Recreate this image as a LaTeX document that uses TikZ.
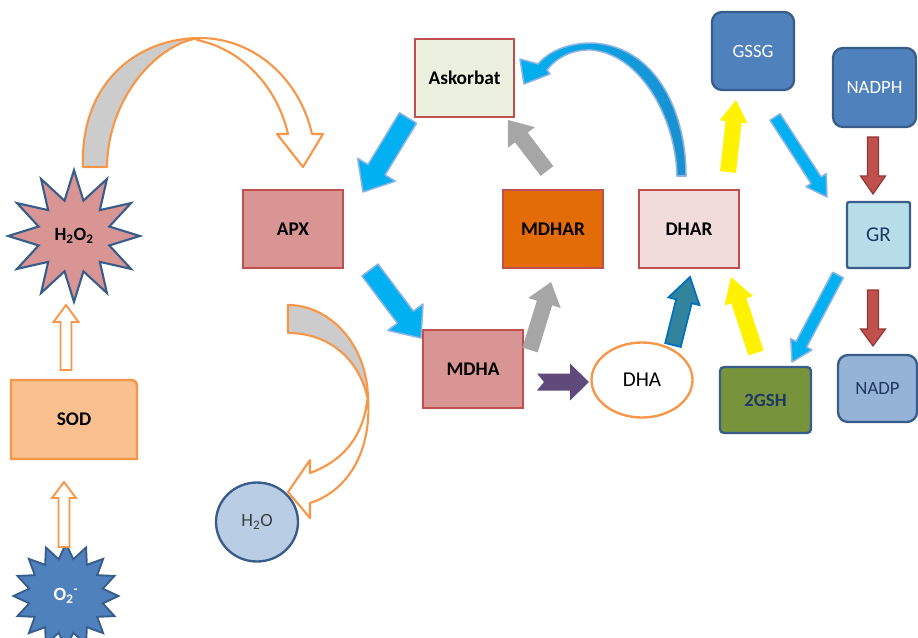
\documentclass[tikz,border=0pt]{standalone}
\usepackage{fontspec}
\setmainfont{Carlito}
\usetikzlibrary{shapes.geometric,calc}
\definecolor{redf}{HTML}{D99594}
\definecolor{redb}{HTML}{C0504D}
\definecolor{askf}{HTML}{EBF1DE}
\definecolor{mdharf}{HTML}{E36C09}
\definecolor{dharf}{HTML}{F2DCDB}
\definecolor{orng}{HTML}{F79646}
\definecolor{sodf}{HTML}{FAC090}
\definecolor{bluef}{HTML}{4F81BD}
\definecolor{navy}{HTML}{385D8A}
\definecolor{grf}{HTML}{B7DEE8}
\definecolor{nadpf}{HTML}{95B3D7}
\definecolor{gshf}{HTML}{77933C}
\definecolor{h2of}{HTML}{B9CDE5}
\definecolor{cyanc}{HTML}{00B0F0}
\definecolor{lbb}{HTML}{8DB3E2}
\definecolor{grayc}{HTML}{A6A6A6}
\definecolor{purp}{HTML}{604A7B}
\definecolor{tealf}{HTML}{31849B}
\definecolor{tealb}{HTML}{0070C0}
\definecolor{dred}{HTML}{943634}
\definecolor{txtnavy}{HTML}{1F3864}
\definecolor{txtdk}{HTML}{404040}
\definecolor{deepblue}{HTML}{1A8FD0}
\newcommand{\blockarr}[6]{%
 \pgfmathsetmacro\bsw{#4*0.85358}%
 \pgfmathsetmacro\bhw{#5*0.85358}%
 \pgfmathsetmacro\bhl{#6*0.85358}%
 \coordinate (bah) at ($(#3)!\bhl pt!(#2)$);
 \draw[#1] ($(#2)!\bsw pt!90:(#3)$) -- ($(bah)!\bsw pt!-90:(#2)$) -- ($(bah)!\bhw pt!-90:(#2)$) -- (#3) -- ($(bah)!\bhw pt!90:(#2)$) -- ($(bah)!\bsw pt!90:(#2)$) -- ($(#2)!\bsw pt!-90:(#3)$) -- cycle;
}
\begin{document}
\begin{tikzpicture}[x=0.03cm,y=-0.03cm,
 box/.style={rectangle, line width=2pt, draw=redb, inner sep=0pt, minimum width=3cm, minimum height=2.34cm, font=\bfseries\fontsize{16.5}{18}\selectfont},
 rbox/.style={rectangle, rounded corners=0.3cm, line width=2pt, draw=navy, inner sep=0pt, font=\fontsize{16}{18}\selectfont},
 cyanarr/.style={fill=cyanc, draw=lbb, line width=1.3pt, line join=round},
 grayarr/.style={fill=grayc, draw=none},
 yellarr/.style={fill=yellow, draw=none},
 tealarr/.style={fill=tealf, draw=tealb, line width=1.5pt},
 redarr/.style={fill=redb, draw=dred, line width=1pt},
 hollowarr/.style={fill=white, draw=orng, line width=1.6pt},
 curvearr/.style={draw=orng, line width=1.8pt, line join=round}
]
\useasboundingbox (0,0) rectangle (918,637);

% nodes
\node[box, fill=redf] (apx) at (293,229) {APX};
\node[box, fill=askf, minimum width=2.97cm] (ask) at (464.5,78) {Askorbat};
\node[box, fill=mdharf] (mdhar) at (553,229) {MDHAR};
\node[box, fill=dharf] (dhar) at (689,229) {DHAR};
\node[box, fill=redf] (mdha) at (473,369) {MDHA};
\node[ellipse, draw=orng, line width=2pt, fill=white, minimum width=3.03cm, minimum height=2.25cm, inner sep=0pt, font=\fontsize{18}{20}\selectfont] (dha) at (642,380) {DHA};
\node[rbox, fill=bluef, text=white, minimum width=2.46cm, minimum height=2.34cm] (gssg) at (753,51) {GSSG};
\node[rbox, fill=bluef, text=white, minimum width=2.49cm, minimum height=2.37cm] (nadph) at (874.5,87.5) {NADPH};
\node[rbox, rounded corners=0.06cm, fill=grf, text=txtnavy, minimum width=1.89cm, minimum height=1.98cm, font=\fontsize{18}{20}\selectfont] (gr) at (878.5,235) {GR};
\node[rbox, fill=nadpf, text=txtnavy, minimum width=2.37cm, minimum height=2.01cm] (nadp) at (877.5,388.5) {NADP};
\node[rbox, rounded corners=0.12cm, fill=gshf, text=txtnavy, minimum width=2.73cm, minimum height=1.98cm, font=\bfseries\fontsize{16}{18}\selectfont] (gsh) at (765.5,400) {2GSH};
\node[ellipse, draw=navy, line width=2pt, fill=h2of, minimum width=2.46cm, minimum height=2.37cm, inner sep=0pt, text=txtdk, font=\fontsize{16}{18}\selectfont] (h2o) at (257,522) {H\textsubscript{2}O};

% SOD box (one rounded corner)
\fill[sodf] (11,459) -- (11,380) -- (125,380) .. controls (137,380) .. (137,392) -- (137,459) -- cycle;
\draw[orng, line width=2pt] (11,459) -- (11,380) -- (125,380) .. controls (137,380) .. (137,392) -- (137,459) -- cycle;
\node[inner sep=0pt, font=\bfseries\fontsize{16.5}{18}\selectfont] (sod) at (74,419.5) {SOD};

% stars
\node[star, star points=12, star point ratio=1.8, minimum size=3.95cm, inner sep=0pt, fill=redf, draw=navy, line width=1.8pt, font=\bfseries\fontsize{16}{18}\selectfont] (h2o2) at (74,236) {H\textsubscript{2}O\textsubscript{2}};
\node[star, star points=16, star point ratio=1.4, minimum size=3.15cm, inner sep=0pt, fill=bluef, draw=navy, line width=1.6pt, text=white, font=\bfseries\fontsize{16}{18}\selectfont] (o2) at (66,596) {O\textsubscript{2}\textsuperscript{-}};

% arrow end coordinates
\coordinate (a1s) at (408,118); \coordinate (a1e) at (363,192);
\coordinate (a2s) at (370,270); \coordinate (a2e) at (421,338);
\coordinate (a3s) at (547,171); \coordinate (a3e) at (508,120);
\coordinate (a4s) at (530,350); \coordinate (a4e) at (551,282);
\coordinate (a5s) at (673,345); \coordinate (a5e) at (690,277);
\coordinate (a6s) at (728,172); \coordinate (a6e) at (736,100);
\coordinate (a7s) at (756,353); \coordinate (a7e) at (731,277);
\coordinate (a8s) at (775,117); \coordinate (a8e) at (827,197);
\coordinate (a9s) at (838,275); \coordinate (a9e) at (792,362);
\coordinate (a10s) at (873,137); \coordinate (a10e) at (873,194);
\coordinate (a11s) at (873,290); \coordinate (a11e) at (873,346);
\coordinate (a12s) at (66,370); \coordinate (a12e) at (66,305);
\coordinate (a13s) at (64,547); \coordinate (a13e) at (64,482);

\blockarr{cyanarr}{a1s}{a1e}{10}{22}{26}
\blockarr{cyanarr}{a2s}{a2e}{10}{22}{26}
\blockarr{grayarr}{a3s}{a3e}{8}{17}{22}
\blockarr{grayarr}{a4s}{a4e}{8}{17}{22}
\blockarr{tealarr}{a5s}{a5e}{8}{16}{25}
\blockarr{yellarr}{a6s}{a6e}{8}{14}{22}
\blockarr{yellarr}{a7s}{a7e}{8}{15}{25}
\blockarr{cyanarr}{a8s}{a8e}{6}{12}{20}
\blockarr{cyanarr}{a9s}{a9e}{6}{12}{20}
\blockarr{redarr}{a10s}{a10e}{5.5}{12.5}{18}
\blockarr{redarr}{a11s}{a11e}{5.5}{12.5}{17}
\blockarr{hollowarr}{a12s}{a12e}{5.5}{12.5}{17}
\blockarr{hollowarr}{a13s}{a13e}{5.5}{12}{16}

% notched purple arrow MDHA -> DHA
\coordinate (a14s) at (537,382); \coordinate (a14e) at (589,382);
\fill[purp] (a14s) ++(0,-8.5) -- ++(33,0) -- ++(0,-10) -- (a14e) -- ++(-19,18.5) -- ++(0,-10) -- ++(-33,0) -- ++(7,-8.5) -- cycle;

% curved orange arrow H2O2 -> APX
\coordinate (c1e) at (303,167);
\draw[curvearr, fill=gray!40] (83,167) .. controls (80,80) and (140,38) .. (200,38) .. controls (160,42) and (108,95) .. (107,167) -- cycle;
\draw[curvearr, fill=white] (200,38) .. controls (255,38) and (300,80) .. (312,134) -- (323,134) -- (c1e) -- (277,134) -- (288,134) .. controls (278,90) and (245,50) .. (197,40) -- cycle;

% curved orange arrow APX -> H2O
\coordinate (c2e) at (288,492);
\draw[curvearr, fill=gray!40] (288,305) .. controls (330,305) and (368,345) .. (368,400) .. controls (360,360) and (330,333) .. (288,333) -- cycle;
\draw[curvearr, fill=white] (368,398) .. controls (372,455) and (345,492) .. (310,503) -- (310,518) -- (c2e) -- (310,460) -- (310,473) .. controls (340,462) and (362,440) .. (367,402) -- cycle;

% curved blue arrow DHAR -> Askorbat
\coordinate (c3e) at (524,84);
\draw[draw=lbb, line width=1.3pt, line join=round, left color=cyanc, right color=deepblue] (677,176) .. controls (676,120) and (642,55) .. (592,50) .. controls (572,49) and (556,58) .. (547,70) -- (550,74) -- (c3e) -- (520,59) -- (538,64) .. controls (550,50) and (570,43) .. (592,43) .. controls (655,46) and (686,110) .. (686,176) -- cycle;

\end{tikzpicture}
\end{document}
